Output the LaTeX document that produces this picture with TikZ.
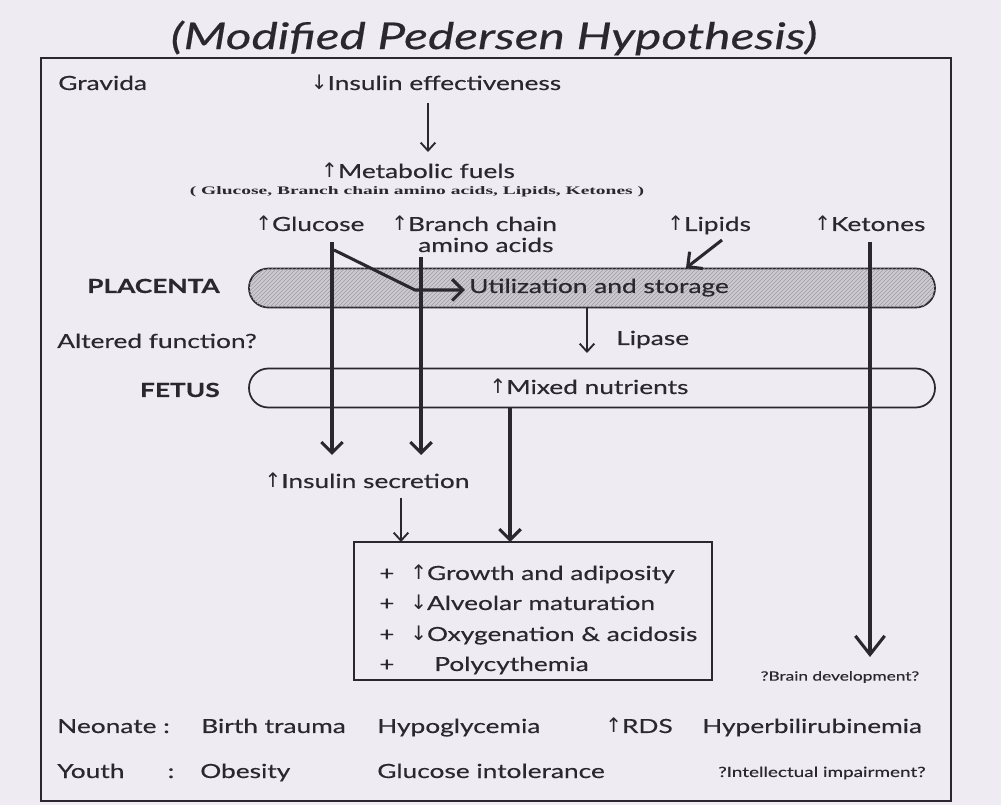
\documentclass[tikz,border=0pt]{standalone}
\usepackage{fontspec}
\setmainfont[FakeStretch=1.35,FakeBold=0.4]{Lato}
\newfontfamily\smallserif[FakeStretch=1.7]{Liberation Serif}
\newfontfamily\arrowfont{DejaVu Sans}
\newcommand{\upar}{{\arrowfont\fontsize{15}{16}\selectfont ↑}}
\newcommand{\dnar}{{\arrowfont\fontsize{15}{16}\selectfont ↓}}
\usetikzlibrary{arrows.meta,patterns}
\definecolor{bg}{RGB}{238,235,242}
\definecolor{ink}{RGB}{42,40,46}
\definecolor{hatchfill}{RGB}{205,201,210}
\tikzset{
  txt/.style={text=ink, inner sep=0pt, text height=10.5pt, text depth=3pt, font=\fontsize{14.6}{17}\selectfont},
  bold/.style={txt, font=\fontsize{14.6}{17}\selectfont\bfseries},
  small/.style={text=ink, inner sep=0pt, font=\fontsize{9.6}{11}\selectfont},
  pill/.style={draw=ink, line width=1.3pt, rounded corners=14.5pt, minimum width=514.5pt, minimum height=29.25pt, inner sep=0pt},
  thinarr/.style={draw=ink, line width=1.4pt, -{Straight Barb[length=6pt,width=11pt]}},
  thickarr/.style={draw=ink, line width=2.3pt, -{Straight Barb[length=8pt,width=16pt]}},
  ketarr/.style={draw=ink, line width=2.3pt, -{Straight Barb[length=14pt,width=22pt]}}
}
\begin{document}
\begin{tikzpicture}[x=0.75pt,y=-0.75pt]
\fill[bg] (0,0) rectangle (1001,805);
\useasboundingbox (0,0) rectangle (1001,805);
% frame
\draw[ink, line width=1.6pt] (41,58) rectangle (951,801);
% title
\node[text=ink, inner sep=0pt, font=\fontsize{27.6}{31}\selectfont\itshape] (title) at (494,38) {(Modified Pedersen Hypothesis)};
% gravida level
\node[txt, anchor=west] (gravida) at (58,85) {Gravida};
\node[txt] (ineff) at (436,85) {\dnar Insulin effectiveness};
\node[txt] (metab) at (418,173) {\upar Metabolic fuels};
\node[small, font=\fontsize{8.6}{10}\selectfont\smallserif\bfseries] (fuels) at (417,192) {( Glucose, Branch chain amino acids, Lipids, Ketones )};
\node[txt, anchor=west] (glucose) at (255,226) {\upar Glucose};
\node[txt, anchor=west] (bcaa) at (391,226) {\upar Branch chain};
\node[txt, anchor=west] (bcaa2) at (418,247) {amino acids};
\node[txt, anchor=west] (lipids) at (667,226) {\upar Lipids};
\node[txt, anchor=west] (ketones) at (814,226) {\upar Ketones};
% placenta
\node[pill, fill=hatchfill, postaction={pattern=north east lines, pattern color=ink!45}] (placenta) at (592,288) {};
\node[bold, anchor=east] (placentalab) at (220,288) {PLACENTA};
\node[txt, anchor=west] (util) at (469,288) {Utilization and storage};
\node[txt, anchor=west] (altered) at (57,343) {Altered function?};
\node[txt, anchor=west] (lipase) at (616,340) {Lipase};
% fetus
\node[pill] (fetus) at (592,388) {};
\node[bold, anchor=east] (fetuslab) at (220,392) {FETUS};
\node[txt] (mixed) at (589,389) {\upar Mixed nutrients};
\node[txt] (insec) at (367,483) {\upar Insulin secretion};
% outcome box
\node[draw=ink, line width=1.2pt, minimum width=268.5pt, minimum height=103.5pt, inner sep=0pt] (box) at (533,611) {};
\node[txt, anchor=west] (b1) at (379,575) {+};
\node[txt, anchor=west] (b2) at (379,605) {+};
\node[txt, anchor=west] (b3) at (379,636) {+};
\node[txt, anchor=west] (b4) at (379,666) {+};
\node[txt, anchor=west] (o1) at (410,575) {\upar Growth and adiposity};
\node[txt, anchor=west] (o2) at (410,605) {\dnar Alveolar maturation};
\node[txt, anchor=west] (o3) at (410,636) {\dnar Oxygenation \& acidosis};
\node[txt, anchor=west] (o4) at (434,666) {Polycythemia};
\node[small] (brain) at (840,677) {?Brain development?};
% neonate / youth
\node[txt, anchor=west] (neo) at (57,728) {Neonate :};
\node[txt, anchor=west] (n1) at (201,728) {Birth trauma};
\node[txt, anchor=west] (n2) at (377,728) {Hypoglycemia};
\node[txt, anchor=west] (n3) at (605,728) {\upar RDS};
\node[txt, anchor=west] (n4) at (702,728) {Hyperbilirubinemia};
\node[txt, anchor=west] (youth) at (57,773) {Youth};
\node[txt] (ycolon) at (171,773) {:};
\node[txt, anchor=west] (y1) at (200,773) {Obesity};
\node[txt, anchor=west] (y2) at (377,773) {Glucose intolerance};
\node[small, anchor=west, font=\fontsize{10.5}{12}\selectfont] (y3) at (718,773) {?Intellectual impairment?};
% connector end points
\coordinate (a1s) at (428,103);
\coordinate (a1e) at (428,152);
\coordinate (gs) at (332,242);
\coordinate (ge) at (332,455);
\coordinate (gd1) at (334,250);
\coordinate (gd2) at (415,290);
\coordinate (gd3) at (465,290);
\coordinate (bs) at (421,257);
\coordinate (be) at (421,455);
\coordinate (ls) at (722,240);
\coordinate (le) at (686,268);
\coordinate (ks) at (870,242);
\coordinate (ke) at (870,657);
\coordinate (lps) at (587,308);
\coordinate (lpe) at (587,353);
\coordinate (fs) at (510,408);
\coordinate (fe) at (510,542);
\coordinate (is) at (401,498);
\coordinate (ie) at (401,542);
% connectors
\draw[thinarr] (a1s) -- (a1e);
\draw[thickarr] (gs) -- (ge);
\draw[thickarr] (gd1) -- (gd2) -- (gd3);
\draw[thickarr] (bs) -- (be);
\draw[thickarr] (ls) -- (le);
\draw[ketarr] (ks) -- (ke);
\draw[thinarr] (lps) -- (lpe);
\draw[thickarr] (fs) -- (fe);
\draw[thinarr] (is) -- (ie);
\end{tikzpicture}
\end{document}
